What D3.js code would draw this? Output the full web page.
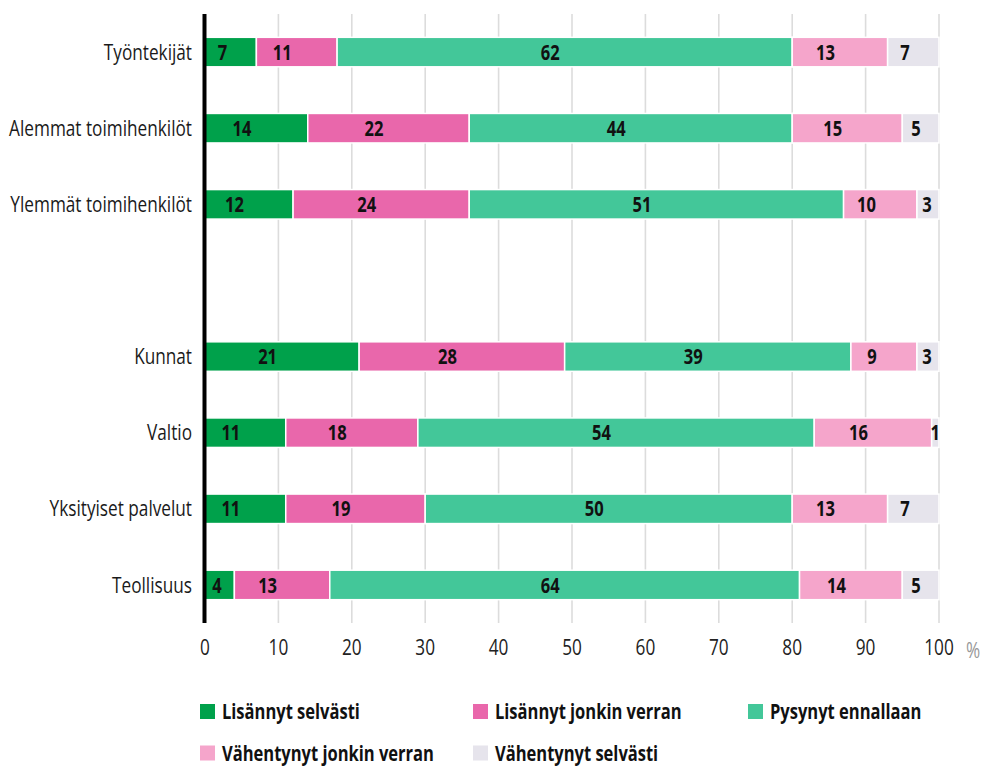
<!DOCTYPE html>
<html><head><meta charset="utf-8">
<script src="https://cdn.jsdelivr.net/npm/d3@7"></script>
<style>
body{margin:0;background:#fff;}
text{font-family:"Open Sans","Noto Sans",sans-serif;}
</style></head>
<body><svg id="c" width="984" height="767"></svg>
<script>
const categories = ["Työntekijät","Alemmat toimihenkilöt","Ylemmät toimihenkilöt","","Kunnat","Valtio","Yksityiset palvelut","Teollisuus"];
const seriesNames = ["Lisännyt selvästi","Lisännyt jonkin verran","Pysynyt ennallaan","Vähentynyt jonkin verran","Vähentynyt selvästi"];
const lisannytSelvasti   = [7,14,12,null,21,11,11,4];
const lisannytJonkin     = [11,22,24,null,28,18,19,13];
const pysynyt            = [62,44,51,null,39,54,50,64];
const vahentynytJonkin   = [13,15,10,null,9,16,13,14];
const vahentynytSelvasti = [7,5,3,null,3,1,7,5];
const xTicks = [0,10,20,30,40,50,60,70,80,90,100];
const colors = ["#00a14b","#e967ab","#43c799","#f5a5cb","#e6e4ec"];

const FS=21;
const svg=d3.select("#c");
function measure(str,weight){
  const t=svg.append("text").attr("font-size",FS).attr("font-weight",weight).text(str);
  const w=t.node().getComputedTextLength(); t.remove(); return w;
}
const sxReg = 183/measure("Alemmat toimihenkilöt","normal");
const sxBold = 138/measure("Lisännyt selvästi","bold");

function ctext(parent,x,y,str,opts){
  const g=parent.append("g").attr("transform",`translate(${x},${y}) scale(${opts.bold?sxBold:sxReg},1)`);
  g.append("text").attr("x",0).attr("y",0).attr("dy","0.36em")
   .attr("text-anchor",opts.anchor||"start").attr("font-size",FS)
   .attr("font-weight",opts.bold?"bold":"normal").attr("fill",opts.fill||"#111").text(str);
  return g;
}

const seriesVals=[lisannytSelvasti,lisannytJonkin,pysynyt,vahentynytJonkin,vahentynytSelvasti];
const rows = categories.map((c,i)=>{const o={cat:c,key:"k"+i};seriesNames.forEach((s,j)=>o[s]=seriesVals[j][i]||0);return o;});
const stack = d3.stack().keys(seriesNames)(rows);

const x=d3.scaleLinear().domain([0,100]).range([205,939]);
const yb=d3.scaleBand().domain(rows.map(r=>r.key)).range([14,623]);
const yc=k=>yb(k)+yb.bandwidth()/2;

// grid
svg.append("g").selectAll("line").data(xTicks.filter(t=>t>0)).join("line")
 .attr("x1",d=>x(d)).attr("x2",d=>x(d)).attr("y1",14).attr("y2",623)
 .attr("stroke","#dcdcdc").attr("stroke-width",1.6);

// x axis labels
const xa=svg.append("g");
xTicks.forEach(t=>ctext(xa,x(t),647,t,{anchor:"middle",fill:"#222"}));
ctext(svg,966,650,"%",{fill:"#999"});

// bars
const g=svg.append("g");
stack.forEach((s,j)=>{
  const data=s.filter(d=>d.data.cat!=="");
  g.append("g").selectAll("rect").data(data).join("rect")
   .attr("x",d=>x(d[0])).attr("width",d=>x(d[1])-x(d[0]))
   .attr("y",d=>yc(d.data.key)-14.75).attr("height",29.5)
   .attr("fill",colors[j]).attr("stroke","#fff").attr("stroke-width",1.5);
  const lg=g.append("g");
  data.forEach(d=>{
    const w=x(d[1])-x(d[0]);
    const shift=Math.max(0,Math.min(14.5,(w-18)/4));
    ctext(lg,(x(d[0])+x(d[1]))/2-shift,yc(d.data.key),d[1]-d[0],{anchor:"middle",bold:true});
  });
});

// category labels
const cl=svg.append("g");
rows.filter(r=>r.cat!=="").forEach(r=>ctext(cl,192,yc(r.key),r.cat,{anchor:"end",fill:"#1a1a1a"}));

// y axis line
svg.append("line").attr("x1",204.5).attr("x2",204.5).attr("y1",14).attr("y2",623).attr("stroke","#000").attr("stroke-width",4);

// legend
const legPos=[[200,711.5],[473,711.5],[748,711.5],[200,753],[473,753]];
seriesNames.forEach((d,i)=>{
  const lg=svg.append("g").attr("transform",`translate(${legPos[i][0]},${legPos[i][1]})`);
  lg.append("rect").attr("x",0).attr("y",-7.5).attr("width",15).attr("height",15).attr("fill",colors[i]);
  ctext(lg,22,0,d,{bold:true});
});
</script></body></html>
